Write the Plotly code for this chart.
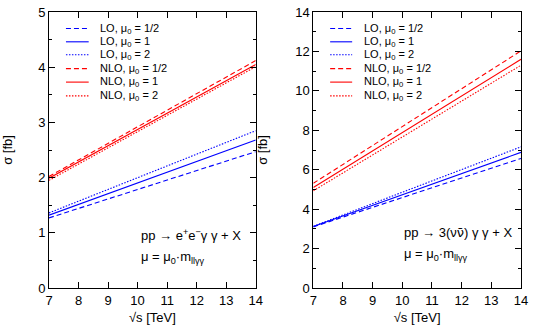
import plotly.graph_objects as go
from plotly.subplots import make_subplots

# sqrt(s) in TeV
sqrt_s = [7, 10.5, 14]

# left panel: pp -> e+e- gamma gamma + X
ee_lo_half = [1.27, 1.87, 2.47]
ee_lo_one = [1.32, 2.00, 2.68]
ee_lo_two = [1.36, 2.11, 2.85]
ee_nlo_half = [2.02, 3.07, 4.12]
ee_nlo_one = [1.99, 3.02, 4.05]
ee_nlo_two = [1.95, 2.98, 4.01]

# right panel: pp -> 3(nu nubar) gamma gamma + X
nn_lo_half = [3.10, 4.83, 6.57]
nn_lo_one = [3.12, 5.00, 6.88]
nn_lo_two = [3.13, 5.14, 7.16]
nn_nlo_half = [5.31, 8.67, 12.03]
nn_nlo_one = [5.10, 8.35, 11.60]
nn_nlo_two = [4.93, 8.12, 11.30]

names = ["LO, μ<sub>0</sub> = 1/2", "LO, μ<sub>0</sub> = 1", "LO, μ<sub>0</sub> = 2",
         "NLO, μ<sub>0</sub> = 1/2", "NLO, μ<sub>0</sub> = 1", "NLO, μ<sub>0</sub> = 2"]
colors = ["#0000ff", "#0000ff", "#0000ff", "#ff0000", "#ff0000", "#ff0000"]
dashes = ["5px,3px", "solid", "1.5px,1.5px", "5px,3px", "solid", "1.5px,1.5px"]

font = "Liberation Sans, Arial, sans-serif"

fig = make_subplots(rows=1, cols=2)

left = [ee_lo_half, ee_lo_one, ee_lo_two, ee_nlo_half, ee_nlo_one, ee_nlo_two]
right = [nn_lo_half, nn_lo_one, nn_lo_two, nn_nlo_half, nn_nlo_one, nn_nlo_two]

for i in range(6):
    fig.add_trace(go.Scatter(x=sqrt_s, y=left[i], mode="lines", name=names[i], showlegend=False,
                             line=dict(color=colors[i], dash=dashes[i], width=1.1)), row=1, col=1)
for i in range(6):
    fig.add_trace(go.Scatter(x=sqrt_s, y=right[i], mode="lines", name=names[i], showlegend=False,
                             line=dict(color=colors[i], dash=dashes[i], width=1.1)), row=1, col=2)

axis_style = dict(showgrid=False, zeroline=False, showline=True, linecolor="black",
                  linewidth=1, mirror="allticks", ticks="inside", ticklen=6,
                  tickcolor="black", ticklabeloverflow="allow",
                  tickfont=dict(size=13, color="black", family=font))

fig.update_xaxes(range=[7, 14], dtick=1, **axis_style)
fig.update_xaxes(title=dict(text="√s [TeV]", font=dict(size=13, family=font), standoff=6))
fig.update_yaxes(**axis_style)
fig.update_yaxes(range=[0, 5], dtick=1, minor=dict(dtick=0.5, ticks="inside", ticklen=3,
                 tickcolor="black"), row=1, col=1)
fig.update_yaxes(range=[0, 14], dtick=2, minor=dict(dtick=1, ticks="inside", ticklen=3,
                 tickcolor="black"), row=1, col=2)
fig.update_yaxes(title=dict(text="σ [fb]", font=dict(size=13, family=font), standoff=24))

fig.update_xaxes(domain=[0, 0.438], row=1, col=1)
fig.update_xaxes(domain=[0.56, 1], row=1, col=2)

# hand-drawn legends (plotly's legend rows are too tall for this layout)
row_y = [0.940, 0.892, 0.845, 0.795, 0.746, 0.696]
for axis, (x0, x1, xt) in [("x", (0.082, 0.192, 0.238)), ("x2", (0.081, 0.187, 0.232))]:
    yaxis = "y" if axis == "x" else "y2"
    for i in range(6):
        fig.add_shape(type="line", xref=axis + " domain", yref=yaxis + " domain",
                      x0=x0, x1=x1, y0=row_y[i], y1=row_y[i],
                      line=dict(color=colors[i], dash=dashes[i], width=1.1))
        fig.add_annotation(xref=axis + " domain", yref=yaxis + " domain", x=xt, y=row_y[i],
                           xanchor="left", yanchor="middle", showarrow=False, text=names[i],
                           font=dict(size=11, family=font, color="black"))

notes = [
    ("x", "y", 0.433, 0.191, "pp → e<sup>+</sup>e<sup>−</sup>γ γ + X"),
    ("x", "y", 0.433, 0.111, "μ = μ<sub>0</sub>·m<sub>llγγ</sub>"),
    ("x2", "y2", 0.426, 0.201,
     "pp → 3(ν<span style=\"font-family:DejaVu Sans\">ν̄</span>) γ γ + X"),
    ("x2", "y2", 0.426, 0.120, "μ = μ<sub>0</sub>·m<sub>llγγ</sub>"),
]
for xa, ya, x, y, txt in notes:
    fig.add_annotation(xref=xa + " domain", yref=ya + " domain", x=x, y=y, xanchor="left",
                       yanchor="middle", showarrow=False, text=txt,
                       font=dict(size=13, family=font, color="black"))

fig.update_layout(
    width=533, height=331,
    margin=dict(l=48, r=10, t=5, b=43),
    plot_bgcolor="white", paper_bgcolor="white",
    font=dict(family=font, color="black"),
)

fig.write_html("out.html", config={"displayModeBar": False},
               post_script="document.body.style.margin='0';")
